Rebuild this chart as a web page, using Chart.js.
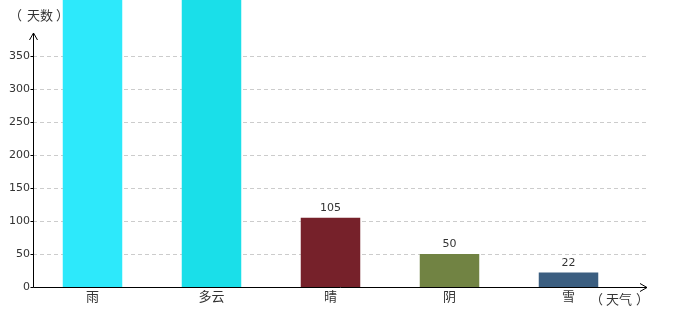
<!DOCTYPE html>
<html>
<head>
<meta charset="utf-8">
<script src="https://cdn.jsdelivr.net/npm/chart.js@4"></script>
<style>
  body { margin: 0; background: #fff; }
  #wrap { width: 680px; height: 320px; }
</style>
</head>
<body>
<div id="wrap"><canvas id="weather-chart"></canvas></div>
<script>
const weatherLabels = ["雨", "多云", "晴", "阴", "雪"];
// the first two bars run off the top of the picture, so their values are only a guess
const dayCounts = [460, 450, 105, 50, 22];
const barColors = ["#2de9fb", "#1adfe9", "#76212a", "#718343", "#3b5e80"];
const yTickMax = 350;
const yTickStep = 50;

const cjkFont = '"Noto Sans CJK SC", "DejaVu Sans", sans-serif';
const numFont = '11px "DejaVu Sans", sans-serif';

const axesPlugin = {
  id: "axesPlugin",
  beforeDatasetsDraw(chart) {
    const ctx = chart.ctx;
    const area = chart.chartArea;
    const yScale = chart.scales.y;
    ctx.save();
    // dashed grid, running past the last category like the original
    ctx.strokeStyle = "#cccccc";
    ctx.lineWidth = 1;
    ctx.setLineDash([4, 3]);
    yScale.ticks.forEach((t) => {
      if (t.value === 0) return;
      const y = Math.round(yScale.getPixelForValue(t.value)) + 0.5;
      ctx.beginPath();
      ctx.moveTo(area.left, y);
      ctx.lineTo(646, y);
      ctx.stroke();
    });
    ctx.restore();
  },
  afterDatasetsDraw(chart) {
    const ctx = chart.ctx;
    const area = chart.chartArea;
    const xScale = chart.scales.x;
    const yScale = chart.scales.y;
    const x0 = Math.round(area.left) + 0.5;
    const y0 = Math.round(area.bottom) + 0.5;
    ctx.save();
    ctx.strokeStyle = "#000";
    ctx.lineWidth = 1;
    ctx.setLineDash([]);
    // y axis with arrow
    ctx.beginPath();
    ctx.moveTo(x0, y0);
    ctx.lineTo(x0, 33);
    ctx.moveTo(x0 - 4, 40);
    ctx.lineTo(x0, 33);
    ctx.lineTo(x0 + 4, 40);
    // x axis with arrow
    ctx.moveTo(x0, y0);
    ctx.lineTo(647, y0);
    ctx.moveTo(640, y0 - 4);
    ctx.lineTo(647, y0);
    ctx.lineTo(640, y0 + 4);
    ctx.stroke();

    // y ticks and labels
    ctx.fillStyle = "#333";
    ctx.font = numFont;
    ctx.textAlign = "right";
    ctx.textBaseline = "middle";
    yScale.ticks.forEach((t) => {
      const y = Math.round(yScale.getPixelForValue(t.value)) + 0.5;
      ctx.beginPath();
      ctx.moveTo(x0 - 3, y);
      ctx.lineTo(x0, y);
      ctx.stroke();
      ctx.fillText(String(t.value), 30, y);
    });

    // x category labels
    ctx.textAlign = "center";
    ctx.font = "13px " + cjkFont;
    weatherLabels.forEach((lab, i) => {
      ctx.fillText(lab, xScale.getPixelForTick(i), 296);
    });

    // value labels above bars
    ctx.font = numFont;
    ctx.textBaseline = "bottom";
    chart.getDatasetMeta(0).data.forEach((bar, i) => {
      ctx.fillText(String(dayCounts[i]), bar.x, bar.y - 4);
    });

    // axis titles
    ctx.font = "13px " + cjkFont;
    ctx.textBaseline = "middle";
    ctx.textAlign = "left";
    ctx.fillText("（", 9, 15);
    ctx.fillText("天数", 27, 15);
    ctx.fillText("）", 56, 15);
    ctx.fillText("（", 590, 299);
    ctx.fillText("天气", 606, 299);
    ctx.fillText("）", 636, 299);
    ctx.restore();
  },
};

new Chart(document.getElementById("weather-chart"), {
  type: "bar",
  data: {
    labels: weatherLabels,
    datasets: [
      {
        data: dayCounts,
        backgroundColor: barColors,
        barPercentage: 0.5,
        categoryPercentage: 1,
        clip: false,
      },
    ],
  },
  options: {
    responsive: true,
    maintainAspectRatio: false,
    animation: false,
    layout: { padding: { top: 56, right: 52, left: 0, bottom: 0 } },
    plugins: {
      legend: { display: false },
      tooltip: { enabled: false },
    },
    scales: {
      x: {
        grid: { display: false },
        border: { display: false },
        ticks: { display: false },
        afterFit(scale) {
          scale.height = 33;
        },
      },
      y: {
        min: 0,
        max: yTickMax,
        grid: { display: false },
        border: { display: false },
        ticks: { display: false, stepSize: yTickStep },
        afterFit(scale) {
          scale.width = 33;
        },
      },
    },
  },
  plugins: [axesPlugin],
});
</script>
</body>
</html>
